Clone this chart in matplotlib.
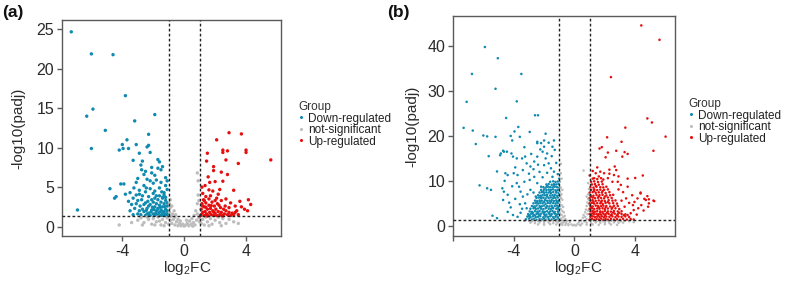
import matplotlib
matplotlib.use("Agg")
import matplotlib.pyplot as plt
from matplotlib.lines import Line2D

plt.rcParams['font.family'] = ['Liberation Sans', 'DejaVu Sans']
plt.rcParams['mathtext.fontset'] = 'custom'
plt.rcParams['mathtext.rm'] = 'Liberation Sans'
plt.rcParams['mathtext.it'] = 'Liberation Sans:italic'

# ---------------- data: panel (a) ----------------
a_down = [(-7.3,24.7),(-6.0,21.9),(-4.6,21.8),(-3.8,16.6),(-5.9,14.9),(-6.3,14.0),(-1.9,14.2),(-3.2,13.4),
          (-5.1,12.2),(-2.3,11.7),(-3.7,11.0),(-4.0,10.4),(-3.1,10.4),(-6.0,9.9),(-4.2,9.7),(-3.95,9.9),
          (-2.4,10.1),(-3.6,9.9),(-6.9,2.1),(-4.8,4.8),(-4.5,3.6),(-4.1,5.4),(-2.3,10.3),(-2.9,9.3),(-2.2,9.4),
          (-3.3,8.4),(-2.7,8.3),(-1.7,8.5),(-1.6,8.2),(-2.8,7.8),(-2.75,7.2),(-2.6,6.6),(-2.1,7.5),(-1.7,7.4),
          (-1.4,7.6),(-1.9,6.5),(-1.5,7.2),(-3.9,5.4),(-4.4,3.8),(-3.8,4.1),(-3.5,4.3),(-3.25,4.9),(-3.1,5.6),
          (-3.0,6.1),(-2.4,6.0),(-2.2,5.8),(-2.0,5.5),(-1.8,5.9),(-1.5,5.6),(-1.2,5.2),(-2.6,5.2),(-2.9,4.6),
          (-3.1,4.0),(-3.3,3.6),(-2.5,4.4),(-2.2,4.8),(-1.9,4.5),(-1.6,4.9),(-1.3,4.3),(-1.1,4.7),(-2.7,3.9),
          (-2.3,3.8),(-1.8,3.9),(-1.4,3.7),(-3.6,3.2),(-3.4,2.8),(-3.0,3.3),(-3.2,2.3),(-2.1,6.8),(-1.2,6.2),
          (-2.5,7.0),(-1.1,5.8),
          (-2.8,1.5),(-2.6,1.9),(-2.5,1.4),(-2.4,2.3),(-2.3,1.7),(-2.2,2.8),(-2.2,1.4),(-2.1,2.1),(-2.0,1.6),
          (-2.0,3.1),(-1.9,2.5),(-1.9,1.4),(-1.8,1.9),(-1.8,2.9),(-1.7,1.5),(-1.7,2.3),(-1.7,3.4),(-1.6,1.8),
          (-1.6,2.7),(-1.5,1.4),(-1.5,2.1),(-1.5,3.1),(-1.4,1.6),(-1.4,2.5),(-1.4,3.6),(-1.3,1.9),(-1.3,2.9),
          (-1.3,1.4),(-1.2,2.2),(-1.2,1.6),(-1.2,3.3),(-1.1,1.5),(-1.1,2.0),(-1.1,2.6),(-1.1,3.0),(-1.05,1.8),
          (-2.7,2.2),(-2.6,2.8),(-2.4,1.6),(-2.3,2.6),(-2.1,3.4),(-2.5,3.0),(-1.9,3.6),(-1.6,3.9),(-1.3,4.0),
          (-2.35,1.35),(-2.05,2.45),(-1.85,1.65),(-1.55,2.45),(-1.25,2.55),(-1.45,1.95),(-1.75,2.05),
          (-1.15,1.35),(-1.65,1.35),(-1.95,2.15),(-2.15,1.85),(-2.45,2.05),(-3.0,1.6),(-2.9,2.0),(-3.3,1.5),
          (-2.85,2.6),(-3.1,2.9),(-2.75,3.4),(-2.35,3.2),(-2.9,4.1),(-2.45,4.9),(-2.0,4.2),(-1.45,4.4),
          (-1.2,3.7),(-3.5,2.0)]

a_ns = [(-4.2,0.2),(-2.4,1.2),(-3.0,0.8),(-2.8,1.1),(-2.6,0.5),(-2.3,0.9),(-2.1,0.3),(-2.0,1.0),(-1.8,0.6),
        (-1.7,1.2),(-1.5,0.2),(-1.4,0.9),(-1.2,0.5),(-1.1,1.1),(-1.0,0.3),(-0.95,1.8),(-0.9,2.4),(-0.9,0.8),
        (-0.85,1.3),(-0.8,0.4),(-0.75,1.6),(-0.7,0.9),(-0.6,0.2),(-0.6,1.2),(-0.5,0.6),(-0.4,0.1),(-0.4,0.9),
        (-0.3,0.4),(-0.2,0.1),(-0.1,0.3),(0.0,0.05),(0.1,0.2),(0.2,0.4),(0.3,0.1),(0.35,0.7),(0.45,0.3),
        (0.5,1.0),(0.6,0.5),(0.65,1.4),(0.7,0.2),(0.75,2.0),(0.8,0.8),(0.85,2.9),(0.85,1.6),(0.9,4.0),
        (0.9,5.8),(0.85,6.8),(0.95,3.3),(0.95,1.1),(1.1,0.4),(1.2,0.9),(1.3,0.2),(1.4,1.2),(1.5,0.6),
        (1.7,1.0),(1.8,0.3),(2.0,0.8),(2.2,1.2),(2.3,0.5),(2.5,1.0),(2.7,0.4),(2.9,0.9),(3.2,0.6),(3.5,0.4),
        (-1.6,0.7),(-1.3,0.1),(-1.9,0.2),(-2.7,0.2),(-0.55,1.5),(-0.25,0.7),(0.15,0.8),(0.55,0.05),
        (1.0,0.6),(1.6,0.1),(2.4,0.1),(-3.4,0.5),(-0.65,2.0),(-0.95,2.9),(-0.9,3.4),(-0.8,2.6)]

a_up = [(2.9,11.9),(3.7,11.75),(2.1,11.0),(1.5,9.3),(2.5,9.7),(2.5,9.4),(2.8,9.6),(4.0,9.7),(4.0,9.4),
        (1.45,8.3),(2.7,8.45),(3.5,8.0),(5.6,8.45),(1.9,7.6),(1.9,7.1),(2.4,6.9),(2.8,6.6),(1.55,6.3),
        (1.65,5.6),(2.0,5.7),(2.5,5.75),(1.35,5.2),(1.85,4.5),(1.6,4.65),(3.2,4.6),(4.15,3.4),(4.3,2.8),
        (3.6,3.2),(3.7,2.5),(1.2,4.2),(1.4,3.8),(1.7,3.9),(2.1,3.6),(2.4,3.3),(2.7,3.5),(3.0,3.0),(3.3,2.6),
        (2.2,4.1),(1.3,3.3),(3.9,2.2),(4.1,2.0),(3.4,2.0),(2.9,2.4),(1.15,5.0),(2.3,4.7),
        (1.1,1.5),(1.1,2.2),(1.15,2.9),(1.2,1.8),(1.3,1.4),(1.3,2.5),(1.35,1.9),(1.4,3.0),(1.45,1.6),
        (1.5,2.2),(1.55,1.4),(1.6,2.7),(1.65,1.8),(1.7,2.3),(1.75,1.5),(1.8,3.1),(1.85,2.0),(1.9,1.4),
        (1.95,2.6),(2.0,1.7),(2.05,2.2),(2.1,1.4),(2.15,2.9),(2.2,1.9),(2.3,1.5),(2.35,2.4),(2.4,1.8),
        (2.5,1.4),(2.55,2.2),(2.6,1.6),(2.7,2.0),(2.8,1.5),(2.9,1.8),(3.0,1.4),(3.1,1.7),(3.2,1.5),(3.3,1.8),
        (3.5,1.5),(1.25,3.4),(1.6,3.5),(2.0,3.3),(1.05,1.35),(1.4,2.45),(1.75,2.65),(2.25,2.7),(2.65,2.6),
        (1.2,2.6),(1.5,1.35),(1.9,1.85),(2.45,1.35)]

# ---------------- data: panel (b) ----------------
b_down = [(-5.9,39.8),(-5.05,37.3),(-6.75,33.8),(-3.5,33.8),(-5.2,30.5),(-7.1,27.6),(-3.8,27.7),(-4.5,24.0),
          (-2.6,24.6),(-2.4,24.6),(-7.3,21.8),(-6.7,21.2),(-3.7,22.0),(-3.95,21.0),(-2.95,20.9),(-6.5,18.2),
          (-6.0,20.1),(-5.75,19.9),(-5.2,19.8),(-3.6,19.8),(-5.65,15.5),(-4.65,16.5),(-4.85,16.1),(-4.9,15.7),
          (-5.1,12.1),(-6.25,9.0),(-5.75,8.35),(-5.4,2.25),(-5.1,1.7),(-2.45,18.7),(-2.45,18.4),(-1.7,18.5),
          (-2.0,17.6),(-4.2,20.0),(-4.1,19.0),(-2.2,18.4),(-2.0,19.0),(-1.35,19.0),(-1.45,17.6),(-1.3,16.9),
          (-4.7,16.7),(-4.45,16.5),(-4.15,16.1),(-4.05,15.4),(-3.8,15.0),(-3.45,15.0),(-3.25,15.4),
          (-4.55,11.7),(-4.4,11.3),(-4.0,11.7),(-3.75,11.3),(-3.15,13.9),(-2.9,13.2),(-2.65,14.3),(-2.45,15.4),
          (-4.75,8.35),(-4.65,7.6),(-4.4,6.9),(-4.7,5.75),(-4.3,5.15),(-4.2,4.1),(-4.4,3.1),(-3.8,9.5),
          (-3.65,8.7),(-3.55,7.6),(-3.4,6.5),(-3.25,5.0),(-3.15,3.9),(-4.05,2.4),(-3.75,2.0),(-3.55,2.9),
          (-2.95,10.2),(-2.65,10.9),(-2.45,9.5),(-2.2,8.7),(-2.9,8.0),(-2.55,6.5),(-2.25,5.4),(-1.9,15.0),
          (-1.7,13.9),(-1.55,12.8),(-1.35,12.05),(-1.45,10.9),(-2.1,16.5),(-1.8,16.1),(-2.25,17.0),
          (-3.9,13.0),(-3.4,12.4),(-3.0,11.6),(-2.7,12.6),(-2.3,12.0),(-2.0,13.5),(-1.2,14.0),(-1.1,11.5),
          (-2.1,10.8),(-1.8,11.8),(-3.3,9.8),(-3.1,7.0),(-2.7,7.4),(-3.6,4.8),(-3.9,6.0),(-2.4,13.6),
          (-1.5,15.5),(-2.85,16.0),(-3.3,17.5),(-1.0,10.5),(-4.6,10.0),(-3.0,2.2),(-4.1,8.8),(-3.45,3.8),
          (-1.9,20.5),(-5.5,8.0),
          (-3.2,1.45),(-3.0,1.6),(-2.8,1.4),(-2.65,1.55),(-2.5,1.35),(-2.3,1.5),(-2.15,1.4),(-2.0,1.6),
          (-1.85,1.35),(-1.7,1.5),(-1.5,1.4),(-1.35,1.6),(-1.2,1.35),(-1.05,1.5),
          (-3.1,2.05),(-2.9,1.9),(-2.75,2.1),(-2.55,1.95),(-2.4,2.0),(-2.25,2.15),(-2.05,1.9),(-1.9,2.05),
          (-1.75,2.0),(-1.6,2.1),(-1.4,1.95),(-1.25,2.05),(-1.1,1.9),
          (-3.05,2.6),(-2.85,2.7),(-2.7,2.5),(-2.5,2.65),(-2.35,2.55),(-2.2,2.7),(-2.0,2.6),(-1.85,2.5),
          (-1.65,2.65),(-1.5,2.6),(-1.3,2.7),(-1.15,2.55),(-1.0,2.6),
          (-2.95,3.2),(-2.8,3.1),(-2.6,3.25),(-2.45,3.15),(-2.3,3.3),(-2.1,3.2),(-1.95,3.1),(-1.8,3.25),
          (-1.6,3.2),(-1.45,3.3),(-1.3,3.1),(-1.1,3.2),
          (-2.9,3.8),(-2.7,3.9),(-2.55,3.75),(-2.4,3.85),(-2.2,3.8),(-2.05,3.7),(-1.9,3.9),(-1.7,3.8),
          (-1.55,3.75),(-1.4,3.9),(-1.2,3.8),(-1.05,3.7),
          (-2.8,4.4),(-2.65,4.3),(-2.5,4.5),(-2.3,4.4),(-2.15,4.35),(-2.0,4.5),(-1.8,4.4),(-1.65,4.3),
          (-1.5,4.45),(-1.3,4.4),(-1.15,4.5),(-1.0,4.35),
          (-2.7,5.0),(-2.55,5.1),(-2.4,4.95),(-2.25,5.05),(-2.1,5.0),(-1.9,4.9),(-1.75,5.1),(-1.6,5.0),
          (-1.4,5.05),(-1.25,4.95),(-1.1,5.1),
          (-2.6,5.6),(-2.45,5.5),(-2.3,5.65),(-2.15,5.6),(-1.95,5.7),(-1.8,5.55),(-1.65,5.6),(-1.5,5.7),
          (-1.35,5.5),(-1.2,5.65),(-1.05,5.6),
          (-2.5,6.2),(-2.35,6.3),(-2.2,6.15),(-2.05,6.25),(-1.9,6.1),(-1.7,6.2),(-1.55,6.3),(-1.4,6.15),
          (-1.25,6.2),(-1.1,6.3),
          (-2.4,6.8),(-2.25,6.7),(-2.1,6.85),(-1.95,6.8),(-1.8,6.9),(-1.6,6.75),(-1.45,6.8),(-1.3,6.9),
          (-1.15,6.7),(-1.0,6.8),
          (-2.3,7.4),(-2.15,7.5),(-2.0,7.35),(-1.85,7.45),(-1.7,7.4),(-1.55,7.3),(-1.4,7.5),(-1.2,7.4),
          (-1.05,7.35),
          (-2.2,8.0),(-2.0,8.1),(-1.85,7.95),(-1.7,8.05),(-1.55,8.0),(-1.4,8.1),(-1.25,7.9),(-1.1,8.0),
          (-2.05,8.6),(-1.9,8.5),(-1.75,8.7),(-1.6,8.6),(-1.45,8.55),(-1.3,8.7),(-1.15,8.6),(-1.0,8.5),
          (-1.85,9.2),(-1.7,9.3),(-1.5,9.15),(-1.35,9.25),(-1.2,9.2),(-1.05,9.3),
          (-1.6,9.8),(-1.4,9.9),(-1.25,9.75),(-1.1,9.85),
          (-2.95,2.35),(-2.6,2.3),(-2.3,2.35),(-1.95,2.35),(-1.55,2.3),(-1.2,2.35),(-2.75,2.9),(-2.4,2.9),
          (-2.05,2.95),(-1.7,2.9),(-1.35,2.95),(-1.05,2.9),(-2.6,4.1),(-2.25,4.1),(-1.85,4.15),(-1.45,4.1),
          (-1.1,4.05),(-2.45,5.3),(-2.0,5.3),(-1.55,5.35),(-1.15,5.3),(-2.2,6.5),(-1.8,6.5),(-1.35,6.5),
          (-2.05,7.7),(-1.6,7.7),(-1.2,7.7),(-1.8,8.85),(-1.35,8.9)]

b_ns = [(-0.95,9.8),(-0.9,8.5),(-0.95,7.5),(-0.85,7.0),(-0.9,6.2),(-0.8,5.8),(-0.95,5.2),(-0.85,4.6),
        (-0.75,4.2),(-0.9,3.8),(-0.8,3.3),(-0.7,3.0),(-0.95,2.8),(-0.85,2.4),(-0.65,2.2),(-0.75,1.9),
        (-0.9,1.6),(-0.6,1.5),(-0.8,1.2),(-0.5,1.1),(-0.7,0.8),(-0.9,0.5),(-0.55,0.6),(-0.4,0.4),(-0.3,0.9),
        (-0.6,0.2),(-0.2,0.3),(-0.1,0.1),(0.0,0.2),(0.1,0.05),(0.2,0.4),(0.3,0.8),(0.35,0.2),(0.45,1.2),
        (0.5,0.5),(0.55,1.8),(0.6,2.4),(0.65,1.0),(0.7,3.0),(0.7,2.0),(0.75,3.6),(0.8,4.4),(0.8,1.5),
        (0.85,5.2),(0.85,2.6),(0.9,6.0),(0.9,7.0),(0.9,3.4),(0.95,8.2),(0.95,4.8),(0.6,12.3),(-0.9,11.7),
        (-0.9,13.8),(-0.85,10.5),(0.9,9.5),(-0.95,6.6),(-0.8,8.0),(0.8,6.5),(0.95,5.8),
        (-3.3,1.1),(-3.0,1.15),(-2.8,1.0),(-2.6,1.2),(-2.4,1.05),(-2.2,1.15),(-2.0,1.0),(-1.8,1.2),
        (-1.6,1.05),(-1.4,1.15),(-1.2,1.0),(-1.05,1.2),(1.05,1.1),(1.25,1.2),(1.45,1.0),(1.65,1.15),
        (1.85,1.05),(2.05,1.2),(2.25,1.0),(2.45,1.15),(2.65,1.05),(2.85,1.2),(3.05,1.0),(3.3,1.1),(3.6,1.0),
        (-2.9,0.7),(-2.6,0.6),(-2.3,0.75),(-2.0,0.65),(-1.7,0.7),(-1.4,0.6),(-1.1,0.75),(-0.8,0.65),
        (0.8,0.7),(1.1,0.6),(1.4,0.75),(1.7,0.65),(2.0,0.7),(2.3,0.6),(2.6,0.75),(2.9,0.65),(3.2,0.7),
        (-2.4,0.3),(-2.0,0.25),(-1.6,0.35),(-1.2,0.3),(-0.8,0.2),(-0.4,0.15),(0.4,0.1),(0.8,0.25),
        (1.2,0.3),(1.6,0.2),(2.0,0.35),(2.4,0.3),(2.8,0.2),(3.9,0.8)]

b_up = [(4.4,44.6),(5.6,41.4),(2.4,33.1),(3.35,21.85),(4.8,23.9),(5.1,23.0),(6.0,19.85),(2.15,19.7),
        (3.1,18.7),(5.2,16.7),(1.65,17.2),(1.8,17.5),(2.2,16.3),(2.75,16.7),(3.3,16.4),(3.5,16.0),
        (4.5,11.2),(4.0,10.65),(4.35,7.4),(4.8,6.6),(4.9,5.9),(5.25,5.5),(4.6,6.0),(4.85,4.25),(3.15,15.4),
        (2.05,15.25),(3.5,10.5),(1.4,11.7),(1.7,12.05),(1.95,11.7),(2.65,13.2),(2.75,12.4),(2.2,10.6),
        (2.5,9.8),(2.85,9.8),(3.05,9.1),(3.5,8.7),(4.15,6.1),(4.35,7.2),(4.7,5.75),(4.9,5.0),(5.2,5.6),
        (4.55,3.4),(4.2,3.9),(3.85,4.6),(3.4,6.1),(3.6,5.1),(3.3,4.25),(3.7,2.8),(3.5,2.4),
        (2.9,11.0),(2.3,12.5),(1.5,13.0),(1.2,12.2),(3.2,7.5),(2.9,8.1),(3.8,6.8),(3.1,5.6),(3.95,5.3),
        (4.4,4.6),(2.6,11.3),(1.9,10.3),(1.3,10.6),(3.9,3.5),(4.1,2.5),
        (1.0,1.4),(1.15,1.55),(1.3,1.35),(1.45,1.5),(1.6,1.4),(1.75,1.6),(1.9,1.35),(2.05,1.5),(2.2,1.4),
        (2.4,1.55),(2.6,1.4),(2.8,1.5),(3.0,1.35),(3.2,1.55),(3.45,1.4),(3.7,1.5),(3.9,1.4),
        (1.05,2.0),(1.2,2.1),(1.35,1.95),(1.5,2.05),(1.65,2.0),(1.8,2.1),(1.95,1.9),(2.1,2.05),(2.3,2.0),
        (2.5,2.1),(2.7,1.95),(2.9,2.05),(3.1,2.0),(3.35,2.1),(3.6,1.95),
        (1.0,2.6),(1.15,2.7),(1.3,2.55),(1.45,2.65),(1.6,2.6),(1.75,2.5),(1.9,2.7),(2.05,2.6),(2.25,2.65),
        (2.45,2.55),(2.65,2.7),(2.85,2.6),(3.1,2.65),(3.35,2.55),
        (1.05,3.2),(1.2,3.3),(1.35,3.15),(1.5,3.25),(1.7,3.2),(1.85,3.1),(2.0,3.3),(2.2,3.2),(2.4,3.15),
        (2.6,3.3),(2.85,3.2),(3.1,3.25),
        (1.0,3.8),(1.15,3.9),(1.3,3.75),(1.5,3.85),(1.65,3.8),(1.85,3.9),(2.0,3.7),(2.2,3.85),(2.45,3.8),
        (2.7,3.9),(2.95,3.75),
        (1.05,4.4),(1.2,4.3),(1.4,4.5),(1.55,4.4),(1.75,4.35),(1.9,4.5),(2.1,4.4),(2.35,4.3),(2.6,4.45),
        (2.85,4.4),
        (1.0,5.0),(1.15,5.1),(1.3,4.95),(1.5,5.05),(1.7,5.0),(1.85,4.9),(2.05,5.1),(2.3,5.0),(2.55,5.05),
        (2.8,4.95),
        (1.05,5.6),(1.2,5.7),(1.4,5.55),(1.6,5.65),(1.8,5.6),(2.0,5.5),(2.25,5.7),(2.5,5.6),(2.7,5.65),
        (1.0,6.2),(1.2,6.3),(1.35,6.15),(1.55,6.25),(1.75,6.2),(1.95,6.1),(2.2,6.3),(2.45,6.2),
        (1.05,6.8),(1.25,6.7),(1.45,6.85),(1.65,6.8),(1.85,6.9),(2.1,6.75),(2.35,6.8),(2.55,6.9),
        (1.0,7.4),(1.2,7.5),(1.4,7.35),(1.6,7.45),(1.8,7.4),(2.05,7.3),(2.3,7.5),
        (1.1,8.0),(1.3,8.1),(1.5,7.95),(1.7,8.05),(1.95,8.0),(2.2,8.1),
        (1.05,8.6),(1.25,8.5),(1.45,8.7),(1.7,8.6),(1.9,8.55),(2.1,8.7),
        (1.15,9.2),(1.35,9.3),(1.6,9.15),(1.85,9.25),
        (1.1,9.8),(1.3,9.9),(1.55,9.75),(1.8,9.85),
        (1.2,10.5),(1.5,10.4),(1.75,10.6),
        (1.1,2.3),(1.55,2.35),(2.0,2.3),(2.4,2.35),(2.8,2.3),(3.25,2.35),(1.25,2.9),(1.7,2.95),(2.15,2.9),
        (2.55,2.95),(2.95,2.9),(1.1,4.1),(1.6,4.1),(2.05,4.15),(2.5,4.1),(1.25,5.3),(1.75,5.35),(2.2,5.3),
        (1.1,6.5),(1.6,6.55),(2.0,6.5),(1.3,7.75),(1.85,7.7),(1.4,8.9),(1.0,11.2),(1.6,11.0),(2.3,11.6)]

groups = ["Down-regulated", "not-significant", "Up-regulated"]
colors = {"Down-regulated": "#0f8ab0", "not-significant": "#bdbdbd", "Up-regulated": "#e60f0f"}
fc_cut = 1.0
p_cut = 1.3

panels = [
    dict(label="(a)", data={"Down-regulated": a_down, "not-significant": a_ns, "Up-regulated": a_up},
         rect=[62/790, 1-236/289, 219/790, 216/289], xlim=(-7.9, 6.26), ylim=(-1.2, 26.2),
         xticks=[-4, 0, 4], xticklabels=["-4", "0", "4"], yticks=[0, 5, 10, 15, 20, 25], s=6.0,
         lab_pos=(2/790, 1-13/289), leg=(298/790, 1-101/289), xlab=(0.571, -0.106), ylpad=8),
    dict(label="(b)", data={"Down-regulated": b_down, "not-significant": b_ns, "Up-regulated": b_up},
         rect=[453/790, 1-236/289, 222/790, 220/289], xlim=(-8.0, 6.62), ylim=(-2.27, 46.7),
         xticks=[-8, -4, 0, 4], xticklabels=["", "-4", "0", "4"], yticks=[0, 10, 20, 30, 40], s=3.3,
         lab_pos=(387/790, 1-13/289), leg=(688/790, 1-98/289), xlab=(0.563, -0.105), ylpad=6),
]

fig = plt.figure(figsize=(7.9, 2.89), dpi=100)
frame_col = "#5a5a5a"
for p in panels:
    ax = fig.add_axes(p["rect"])
    for g in groups:
        pts = p["data"][g]
        xs = [q[0] for q in pts]
        ys = [q[1] for q in pts]
        ax.scatter(xs, ys, s=p["s"], c=colors[g], edgecolors="none", zorder=2)
    ax.axvline(-fc_cut, color="#222222", lw=1.0, ls=(0, (2, 1.6)), zorder=3)
    ax.axvline(fc_cut, color="#222222", lw=1.0, ls=(0, (2, 1.6)), zorder=3)
    ax.axhline(p_cut, color="#222222", lw=1.0, ls=(0, (2, 1.6)), zorder=3)
    ax.set_xlim(*p["xlim"])
    ax.set_ylim(*p["ylim"])
    ax.set_xticks(p["xticks"])
    ax.set_xticklabels(p["xticklabels"])
    ax.set_yticks(p["yticks"])
    for sp in ax.spines.values():
        sp.set_color(frame_col)
        sp.set_linewidth(1.0)
    ax.tick_params(axis="both", direction="out", length=3.5, width=1.0, color=frame_col,
                   labelsize=11.5, labelcolor="#2b2b2b", pad=2)
    ax.set_xlabel(r"log$_{\mathrm{2}}$FC", fontsize=11, color="#2b2b2b", va="top")
    ax.xaxis.set_label_coords(*p["xlab"])
    ax.set_ylabel("-log10(padj)", fontsize=11, color="#2b2b2b", labelpad=p["ylpad"])
    handles = [Line2D([], [], ls="", marker="o", markersize=2.2, markeredgewidth=0,
                      color=colors[g]) for g in groups]
    leg = fig.legend(handles, groups, title="Group", loc="upper left", bbox_to_anchor=p["leg"],
                     frameon=False, fontsize=8.5, title_fontsize=8.5, handlelength=0.5,
                     handletextpad=0.35, labelspacing=-0.04, borderpad=0, borderaxespad=0)
    leg._legend_box.align = "left"
    leg.get_title().set_color("#333333")
    for t in leg.get_texts():
        t.set_color("#222222")
    fig.text(p["lab_pos"][0], p["lab_pos"][1], p["label"], fontsize=12.5, fontweight="bold",
             va="center", ha="left", color="#111111")

fig.savefig("out.png", dpi=100)
